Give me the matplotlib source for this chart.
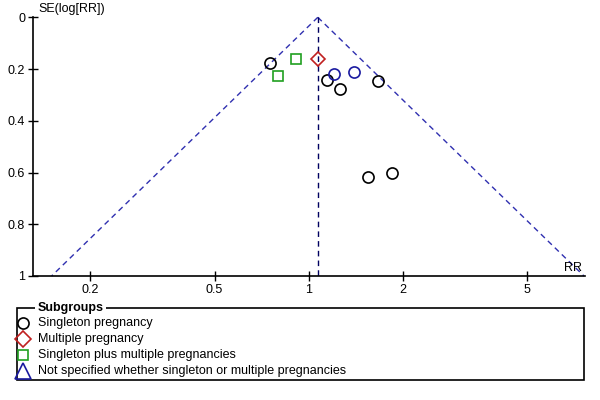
import matplotlib.pyplot as plt
import matplotlib.patches as mpatches
import numpy as np

plt.rcParams['font.family'] = ['Liberation Sans', 'DejaVu Sans']

# study estimates
singleton_rr = [0.75, 1.14, 1.26, 1.67, 1.55, 1.85]
singleton_se = [0.178, 0.243, 0.277, 0.246, 0.619, 0.601]
multiple_rr = [1.067]
multiple_se = [0.161]
mixed_rr = [0.91, 0.796]
mixed_se = [0.162, 0.227]
unspec_rr = [1.207, 1.40]
unspec_se = [0.220, 0.213]

pooled_rr = 1.069
x_ticks = [0.2, 0.5, 1, 2, 5]
y_ticks = [0, 0.2, 0.4, 0.6, 0.8, 1]

legend_labels = ["Singleton pregnancy", "Multiple pregnancy",
                 "Singleton plus multiple pregnancies",
                 "Not specified whether singleton or multiple pregnancies"]
legend_markers = ['o', 'D', 's', '^']
legend_sizes = [8, 8, 7.5, 11]
legend_colors = ['black', '#c02020', '#20a020', '#1a1aa0']

fig = plt.figure(figsize=(6, 4), dpi=100)
ax = fig.add_axes([32.7 / 600, 124 / 400, 552 / 600, 258.7 / 400])

# funnel limits
se_line = np.array([0, 1])
ax.plot(pooled_rr * np.exp(-1.96 * se_line), se_line, color='#3030b0',
        lw=1, dashes=(4, 3), clip_on=False)
ax.plot(pooled_rr * np.exp(1.96 * se_line), se_line, color='#3030b0',
        lw=1, dashes=(4, 3), clip_on=False)
ax.plot([pooled_rr, pooled_rr], [0, 1], color='#000060', lw=1, dashes=(4, 3))

mk = dict(linestyle='none', markerfacecolor='none', markeredgewidth=1.2)
ax.plot(singleton_rr, singleton_se, marker='o', markersize=8,
        markeredgecolor='black', **mk)
ax.plot(unspec_rr, unspec_se, marker='o', markersize=8,
        markeredgecolor='#1a1aa0', **mk)
ax.plot(mixed_rr, mixed_se, marker='s', markersize=7,
        markeredgecolor='#20a020', **mk)
ax.plot(multiple_rr, multiple_se, marker='D', markersize=7,
        markeredgecolor='#c02020', **mk)

ax.set_xscale('log')
ax.set_xlim(0.131, 7.63)
ax.set_ylim(1, 0)
ax.set_xticks(x_ticks)
ax.set_xticklabels([str(t) for t in x_ticks])
ax.minorticks_off()
ax.set_yticks(y_ticks)
ax.set_yticklabels([f"{t:g}" for t in y_ticks])
ax.tick_params(labelsize=9, length=7, width=1, direction='inout', pad=2)
for s in ['top', 'right']:
    ax.spines[s].set_visible(False)
for s in ['left', 'bottom']:
    ax.spines[s].set_linewidth(1.2)
ax.patch.set_alpha(0)

fig.text(38 / 600, 1 - 9 / 400, "SE(log[RR])", fontsize=9, va='center')
ax.text(0.995, 0.03, "RR", transform=ax.transAxes, fontsize=9,
        ha='right', va='center')

# legend box, drawn in pixel coords
lax = fig.add_axes([16.5 / 600, 20 / 400, 567 / 600, 72 / 400])
lax.set_xlim(0, 567)
lax.set_ylim(72, 0)
lax.axis('off')
lax.add_patch(mpatches.Rectangle((0, 0), 567, 72, fill=False,
                                 edgecolor='black', lw=1.2, clip_on=False))
lax.text(21, 0, "Subgroups", fontsize=9, fontweight='bold', va='center',
         bbox=dict(facecolor='white', edgecolor='none', pad=1.5))
for i, (lab, m, ms, c) in enumerate(zip(legend_labels, legend_markers,
                                        legend_sizes, legend_colors)):
    y = 15 + 16 * i
    lax.plot([6], [y], marker=m, markersize=ms, markerfacecolor='none',
             markeredgecolor=c, markeredgewidth=1.2, linestyle='none',
             clip_on=False)
    lax.text(22, y, lab, fontsize=9, va='center')

fig.savefig('out.png', dpi=100)
